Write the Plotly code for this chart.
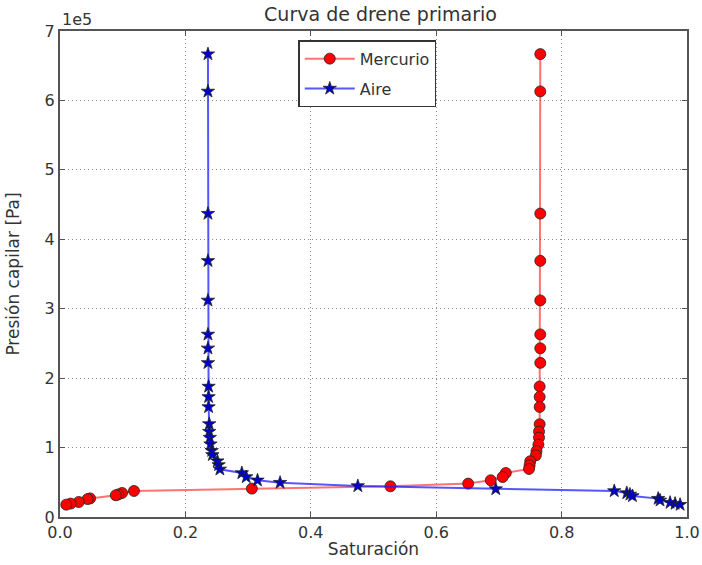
import plotly.graph_objects as go

# Capillary pressure (Pa), shared row by row by both curves
pc_aire = [6.667e5, 6.13e5, 4.37e5, 3.69e5, 3.12e5, 2.63e5, 2.43e5, 2.22e5, 1.88e5, 1.73e5,
           1.585e5, 1.34e5, 1.23e5, 1.144e5, 1.05e5, 0.955e5, 0.895e5, 0.805e5, 0.75e5, 0.687e5,
           0.634e5, 0.576e5, 0.529e5, 0.495e5, 0.447e5, 0.403e5, 0.375e5, 0.346e5, 0.325e5,
           0.303e5, 0.265e5, 0.24e5, 0.207e5, 0.193e5, 0.178e5]
sat_aire = [0.236, 0.236, 0.236, 0.236, 0.236, 0.236, 0.236, 0.236, 0.237, 0.237,
            0.237, 0.238, 0.238, 0.239, 0.240, 0.242, 0.243, 0.251, 0.253, 0.255,
            0.290, 0.297, 0.315, 0.351, 0.475, 0.695, 0.884, 0.904, 0.909,
            0.913, 0.954, 0.957, 0.973, 0.981, 0.989]

pc_hg = [6.667e5, 6.13e5, 4.37e5, 3.69e5, 3.12e5, 2.63e5, 2.43e5, 2.22e5, 1.88e5, 1.73e5,
         1.585e5, 1.336e5, 1.23e5, 1.144e5, 1.043e5, 0.95e5, 0.889e5, 0.803e5, 0.745e5, 0.692e5,
         0.634e5, 0.576e5, 0.529e5, 0.481e5, 0.442e5, 0.409e5, 0.375e5, 0.346e5, 0.325e5,
         0.313e5, 0.268e5, 0.258e5, 0.216e5, 0.193e5, 0.178e5]
sat_hg = [0.766, 0.766, 0.766, 0.766, 0.766, 0.766, 0.766, 0.766, 0.765, 0.765,
          0.765, 0.765, 0.764, 0.764, 0.763, 0.760, 0.759, 0.750, 0.749, 0.748,
          0.711, 0.706, 0.687, 0.651, 0.527, 0.306, 0.118, 0.099, 0.093,
          0.089, 0.048, 0.044, 0.030, 0.017, 0.010]

y_ticks = [0, 1e5, 2e5, 3e5, 4e5, 5e5, 6e5, 7e5]
y_labels = ["0", "1", "2", "3", "4", "5", "6", "7"]
x_ticks = [0.0, 0.2, 0.4, 0.6, 0.8, 1.0]
x_labels = ["0.0", "0.2", "0.4", "0.6", "0.8", "1.0"]

txt = "#333333"
fnt = "DejaVu Sans"

fig = go.Figure()
fig.add_trace(go.Scatter(
    x=sat_hg, y=pc_hg, mode="lines+markers", name="Mercurio", legendgroup="a",
    line=dict(color="rgba(255,40,40,0.65)", width=2),
    marker=dict(color="red", size=11, symbol="circle", line=dict(color="#222", width=0.8)),
))
fig.add_trace(go.Scatter(
    x=sat_aire, y=pc_aire, mode="lines+markers", name="Aire", legendgroup="b",
    line=dict(color="rgba(30,30,255,0.75)", width=2),
    marker=dict(color="#0000cc", size=10, symbol="star", line=dict(color="#222", width=0.8)),
))

axis_common = dict(
    showline=True, linecolor="#555555", linewidth=2, mirror="ticks",
    ticks="inside", ticklen=5, tickcolor="#555555", tickwidth=1,
    showgrid=True, gridcolor="#888888", griddash="1px,3px", gridwidth=1,
    zeroline=False, automargin=False,
    tickfont=dict(family=fnt, size=16, color=txt),
)

fig.update_layout(
    width=702, height=565,
    paper_bgcolor="white", plot_bgcolor="white",
    margin=dict(l=60, r=15, t=31, b=48),
    title=dict(text="Curva de drene primario", x=0.542, xanchor="center", y=0.975, yanchor="middle",
               automargin=False, font=dict(family=fnt, size=19, color=txt)),
    xaxis=dict(range=[0, 1], tickvals=x_ticks, ticktext=x_labels,
               title=dict(text="Saturación", standoff=2, font=dict(family=fnt, size=17, color=txt)),
               **axis_common),
    yaxis=dict(range=[0, 7e5], tickvals=y_ticks, ticktext=y_labels,
               title=dict(text="Presión capilar [Pa]", standoff=21, font=dict(family=fnt, size=17, color=txt)),
               **axis_common),
    legend=dict(x=0.38, y=0.981, xanchor="left", yanchor="top",
                bordercolor="#333333", borderwidth=1.5, bgcolor="white",
                font=dict(family=fnt, size=16, color=txt), tracegroupgap=6,
                itemwidth=50),
    showlegend=True,
)
fig.add_annotation(text="1e5", xref="paper", yref="paper", x=0.0, y=1.0,
                   xanchor="left", yanchor="bottom", showarrow=False,
                   font=dict(family=fnt, size=16, color=txt))

# drop the browser's default 8px body margin so the 702x565 figure fills the window
fig.write_html("out.html", config={"displayModeBar": False},
               post_script="document.body.style.margin='0';")
